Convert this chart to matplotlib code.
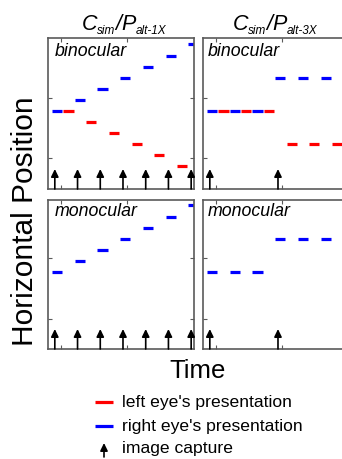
import numpy as np
import matplotlib
matplotlib.use('Agg')
import matplotlib.pyplot as plt

plt.rcParams['font.family'] = ['Liberation Sans', 'DejaVu Sans']

# ---- data (time in frames, position in steps) ----
frames_1x_blue = [0, 2, 4, 6, 8, 10, 12]
frames_1x_red = [1, 3, 5, 7, 9, 11]
bino_1x_blue = [0, 1, 2, 3, 4, 5, 6]
bino_1x_red = [0, -1, -2, -3, -4, -5]
mono_1x_blue = [0, 1, 2, 3, 4, 5, 6]

frames_3x_blue = [0, 2, 4, 6, 8, 10]
frames_3x_red = [1, 3, 5, 7, 9, 11]
bino_3x_blue = [0, 0, 0, 3, 3, 3]
bino_3x_red = [0, 0, 0, -3, -3, -3]
mono_3x_blue = [0, 0, 0, 3, 3, 3]

capture_1x = [0, 2, 4, 6, 8, 10, 12]
capture_3x = [0, 6, 12]

panel_labels = ['binocular', 'monocular']
legend_labels = ["left eye's presentation", "right eye's presentation", "image capture"]

RED = '#ff0000'
BLUE = '#0000ff'
SPINE = '#5a5a5a'
DASH_LEN = 0.9
ARROW_OFF = 0.25

W, H = 342, 460
fig = plt.figure(figsize=(W / 100, H / 100), dpi=100)


def px_axes(l, t, r, b, **kw):
    return fig.add_axes([l / W, 1 - b / H, (r - l) / W, (b - t) / H], **kw)


def setup(ax, ylim, yticks):
    ax.set_xlim(-0.35, 12.5)
    ax.set_ylim(*ylim)
    ax.set_xticks([0.8, 6.6])
    ax.set_yticks(yticks)
    ax.tick_params(direction='in', length=3, width=0.8, color=SPINE,
                   top=True, right=True, labelbottom=False, labelleft=False)
    for s in ax.spines.values():
        s.set_color(SPINE)
        s.set_linewidth(1.2)


def dashes(ax, t, y, color):
    t = np.asarray(t, float)
    lc = ax.hlines(y, t, t + DASH_LEN, colors=color, lw=2.3)
    lc.set_capstyle('butt')


def arrows(ax, times, ylo):
    for t in times:
        ax.annotate('', xy=(t + ARROW_OFF, ylo + 1.8), xytext=(t + ARROW_OFF, ylo),
                    arrowprops=dict(arrowstyle='-|>,head_length=0.45,head_width=0.22',
                                    color='black', lw=1.2, shrinkA=0, shrinkB=0,
                                    mutation_scale=10))


top_ylim = (-7.03, 6.58)
bot_ylim = (-6.94, 6.49)

tl = px_axes(48, 39, 194, 190)
tr = px_axes(203, 39, 349, 190)
bl = px_axes(48, 201, 194, 350)
br = px_axes(203, 201, 349, 350)

setup(tl, top_ylim, [1.17, -4.23])
setup(tr, top_ylim, [1.17, -4.23])
setup(bl, bot_ylim, [1.26, -4.23])
setup(br, bot_ylim, [1.26, -4.23])

dashes(tl, frames_1x_blue, bino_1x_blue, BLUE)
dashes(tl, frames_1x_red, bino_1x_red, RED)
arrows(tl, capture_1x, top_ylim[0])

dashes(tr, frames_3x_blue, bino_3x_blue, BLUE)
dashes(tr, frames_3x_red, bino_3x_red, RED)
arrows(tr, capture_3x, top_ylim[0])

dashes(bl, frames_1x_blue, mono_1x_blue, BLUE)
arrows(bl, capture_1x, bot_ylim[0])

dashes(br, frames_3x_blue, mono_3x_blue, BLUE)
arrows(br, capture_3x, bot_ylim[0])

# ---- overlay in pixel coordinates (y down) ----
ov = fig.add_axes([0, 0, 1, 1])
ov.set_xlim(0, W)
ov.set_ylim(H, 0)
ov.axis('off')
ov.patch.set_visible(False)

for x0 in (55, 208):
    ov.text(x0, 56, panel_labels[0], style='italic', fontsize=12.8, ha='left', va='baseline')
    ov.text(x0, 216, panel_labels[1], style='italic', fontsize=12.8, ha='left', va='baseline')

renderer = fig.canvas.get_renderer()


def rich_title(xc, yb, parts):
    texts = []
    for s, size, dy in parts:
        t = ov.text(0, yb + dy, s, fontsize=size, style='italic', ha='left', va='baseline')
        texts.append(t)
    widths = []
    for t in texts:
        bb = t.get_window_extent(renderer)
        widths.append(bb.width)
    total = sum(widths)
    x = xc - total / 2
    for t, w in zip(texts, widths):
        t.set_x(x)
        x += w


rich_title(124, 30, [('C', 15.5, 0), ('sim', 8.5, 4), ('/', 15.5, 0), ('P', 15.5, 0), ('alt-1X', 8.5, 4)])
rich_title(275, 30, [('C', 15.5, 0), ('sim', 8.5, 4), ('/', 15.5, 0), ('P', 15.5, 0), ('alt-3X', 8.5, 4)])

ov.text(25, 221, 'Horizontal Position', rotation=90, ha='center', va='center', fontsize=21.5)
ov.text(198, 378, 'Time', ha='center', va='baseline', fontsize=18.5)

# legend
ov.plot([95, 113], [403, 403], color=RED, lw=2.3, solid_capstyle='butt')
ov.plot([95, 113], [427, 427], color=BLUE, lw=2.3, solid_capstyle='butt')
ov.annotate('', xy=(104, 444), xytext=(104, 458),
            arrowprops=dict(arrowstyle='-|>,head_length=0.45,head_width=0.22',
                            color='black', lw=1.2, shrinkA=0, shrinkB=0, mutation_scale=10))
for y, lab in zip((403, 427, 449), legend_labels):
    ov.text(122, y, lab, fontsize=12.6, ha='left', va='center')

fig.savefig('out.png', dpi=100)
